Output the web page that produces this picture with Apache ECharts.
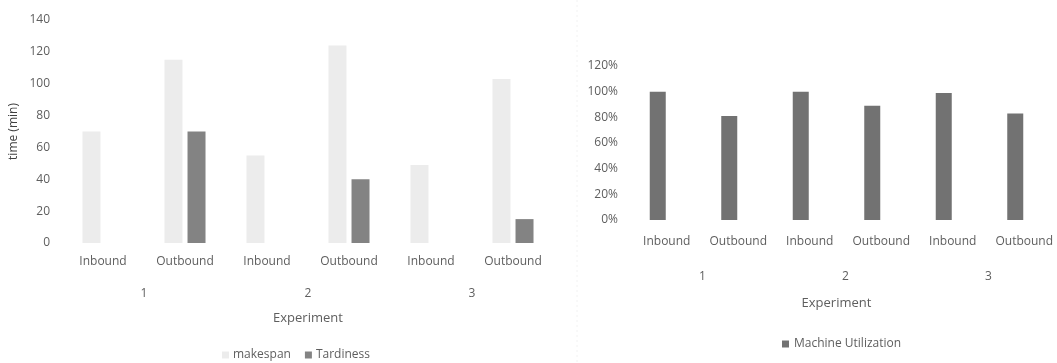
<!DOCTYPE html>
<html>
<head>
<meta charset="utf-8">
<script src="https://cdn.jsdelivr.net/npm/echarts@6/dist/echarts.min.js"></script>
<style>
  html, body { margin: 0; padding: 0; background: #ffffff; }
  #chart { width: 1057px; height: 363px; }
</style>
</head>
<body>
<div id="chart"></div>
<script>
// Experiments and the two directions run in each one
const experiments = ['1', '2', '3'];
const categories = ['Inbound', 'Outbound', 'Inbound', 'Outbound', 'Inbound', 'Outbound'];

// Time per run (minutes)
const makespan = [70, 115, 55, 124, 49, 103];
const tardiness = [0, 70, 0, 40, 0, 15];

// Machine utilization per run (fraction)
const utilization = [1.00, 0.81, 1.00, 0.89, 0.99, 0.83];

const FONT = 'Open Sans';
const TEXT = '#5e5e5e';
const baseLabel = { color: TEXT, fontFamily: FONT, fontSize: 12 };

const chart = echarts.init(document.getElementById('chart'), null, { renderer: 'canvas' });

chart.setOption({
  animation: false,
  backgroundColor: '#ffffff',
  textStyle: { fontFamily: FONT, color: TEXT },
  graphic: [{
    type: 'line',
    shape: { x1: 577, y1: 0, x2: 577, y2: 363 },
    style: { stroke: '#f2f2f2', lineWidth: 1, lineDash: [2, 3] }
  }],
  legend: [
    {
      data: ['makespan', 'Tardiness'],
      left: 217, top: 344,
      itemWidth: 7, itemHeight: 7, itemGap: 14,
      icon: 'rect',
      textStyle: { color: TEXT, fontFamily: FONT, fontSize: 12, padding: [0, 0, 0, -1] }
    },
    {
      data: ['Machine Utilization'],
      left: 777, top: 333,
      itemWidth: 7, itemHeight: 7,
      icon: 'rect',
      textStyle: { color: TEXT, fontFamily: FONT, fontSize: 12 }
    }
  ],
  grid: [
    { left: 62, right: 503, top: 20, bottom: 120 },
    { left: 622, right: 6, top: 66, bottom: 143 }
  ],
  xAxis: [
    {
      type: 'category', gridIndex: 0, data: categories,
      axisLine: { show: false }, axisTick: { show: false },
      axisLabel: Object.assign({ margin: 13, interval: 0 }, baseLabel)
    },
    {
      type: 'category', gridIndex: 0, data: experiments, position: 'bottom', offset: 33,
      axisLine: { show: false }, axisTick: { show: false },
      axisLabel: Object.assign({ margin: 12 }, baseLabel),
      name: 'Experiment', nameLocation: 'middle', nameGap: 36,
      nameTextStyle: { color: TEXT, fontFamily: FONT, fontSize: 13 }
    },
    {
      type: 'category', gridIndex: 1, data: categories,
      axisLine: { show: false }, axisTick: { show: false },
      axisLabel: Object.assign({ margin: 16, interval: 0, padding: [0, 0, 0, 18] }, baseLabel)
    },
    {
      type: 'category', gridIndex: 1, data: experiments, position: 'bottom', offset: 39,
      axisLine: { show: false }, axisTick: { show: false },
      axisLabel: Object.assign({ margin: 12, padding: [0, 0, 0, 18] }, baseLabel),
      name: 'Experiment', nameLocation: 'middle', nameGap: 38,
      nameTextStyle: { color: TEXT, fontFamily: FONT, fontSize: 13 }
    }
  ],
  yAxis: [
    {
      type: 'value', gridIndex: 0, min: 0, max: 140, interval: 20,
      axisLine: { show: false }, axisTick: { show: false }, splitLine: { show: false },
      axisLabel: Object.assign({ margin: 12 }, baseLabel),
      name: 'time (min)', nameLocation: 'middle', nameGap: 42,
      nameTextStyle: { color: '#404040', fontFamily: FONT, fontSize: 12 }
    },
    {
      type: 'value', gridIndex: 1, min: 0, max: 1.2, interval: 0.2,
      axisLine: { show: false }, axisTick: { show: false }, splitLine: { show: false },
      axisLabel: Object.assign({
        margin: 4,
        formatter: v => Math.round(v * 100) + '%'
      }, baseLabel)
    }
  ],
  series: [
    {
      name: 'makespan', type: 'bar', xAxisIndex: 0, yAxisIndex: 0,
      data: makespan, barWidth: 18, barGap: '28%',
      itemStyle: { color: '#ececec' }
    },
    {
      name: 'Tardiness', type: 'bar', xAxisIndex: 0, yAxisIndex: 0,
      data: tardiness, barWidth: 18, barGap: '28%',
      itemStyle: { color: '#838383' }
    },
    {
      name: 'Machine Utilization', type: 'bar', xAxisIndex: 2, yAxisIndex: 1,
      data: utilization, barWidth: 16,
      itemStyle: { color: '#727272' }
    }
  ]
});
</script>
</body>
</html>
